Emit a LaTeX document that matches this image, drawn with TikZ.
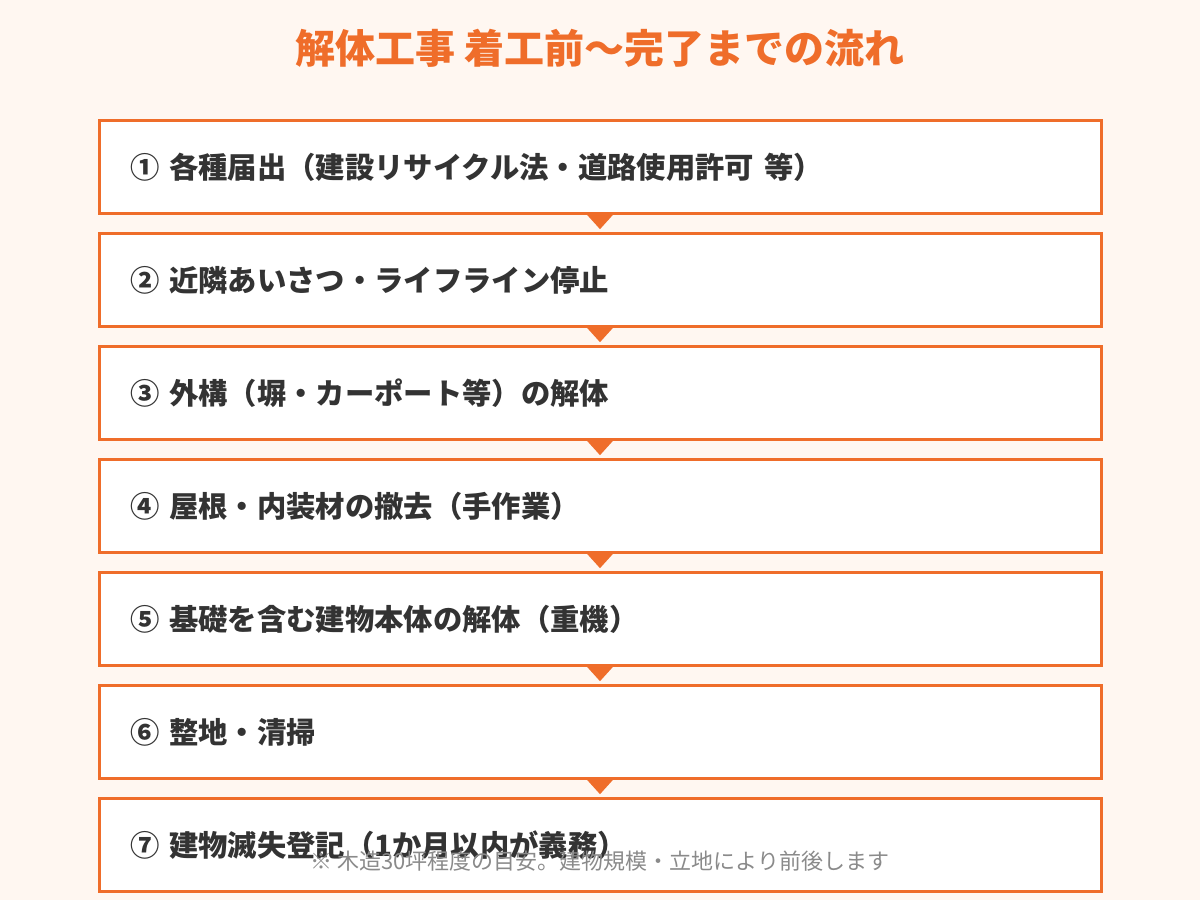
\documentclass[tikz,border=0pt]{standalone}
\usepackage{fontspec}
\setmainfont{Noto Sans CJK JP}
\usepackage{tikz}
\usepackage{xcolor}

\definecolor{bgcream}{HTML}{FFF7F1}
\definecolor{flowor}{HTML}{EF6D2A}
\definecolor{txtdark}{HTML}{333333}
\definecolor{notegray}{HTML}{8A8A8A}

\tikzset{
  stepbox/.style={draw=flowor, line width=2.25pt, fill=white, rectangle,
    minimum width=751.5pt, minimum height=70pt, text width=705pt, inner xsep=23.25pt,
    align=left, text=txtdark, font=\fontsize{22}{26}\selectfont\bfseries},
}

\begin{document}
\begin{tikzpicture}[x=0.75pt, y=-0.75pt]
        \fill[bgcream] (0,0) rectangle (1200,900);
        \useasboundingbox (0,0) rectangle (1200,900);
        \node[text=flowor, font=\fontsize{30}{34}\selectfont\bfseries] (title) at (600,48) {解体工事 着工前〜完了までの流れ};
        \foreach \n / \txt in {1/{① 各種届出（建設リサイクル法・道路使用許可 等）},
            2/{② 近隣あいさつ・ライフライン停止},
            3/{③ 外構（塀・カーポート等）の解体},
            4/{④ 屋根・内装材の撤去（手作業）},
            5/{⑤ 基礎を含む建物本体の解体（重機）},
            6/{⑥ 整地・清掃},
            7/{⑦ 建物滅失登記（1か月以内が義務）}} {
            \node[stepbox] (s\n) at (600,{167+113*(\n-1)}) {\txt};
        };
        \foreach \n in {1,...,6} {
            \fill[flowor] ([xshift=-10.5pt,yshift=1.1pt]s\n.south)
              -- ([xshift=10.5pt,yshift=1.1pt]s\n.south)
              -- ([yshift=-10.5pt]s\n.south)
              -- cycle;
        };
        \node[text=notegray, font=\fontsize{16.5}{19}\selectfont] (note) at (600,861) {※ 木造30坪程度の目安。建物規模・立地により前後します};
    \end{tikzpicture}
\end{document}
